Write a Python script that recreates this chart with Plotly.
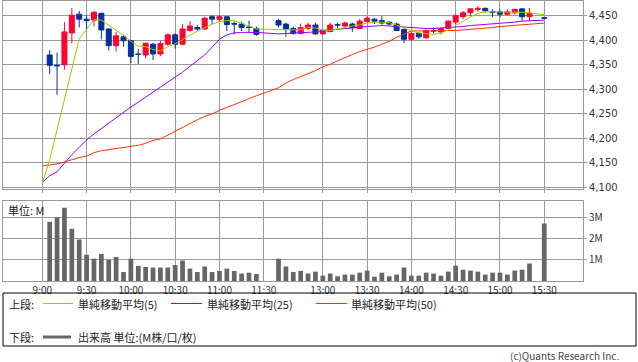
import plotly.graph_objects as go

# ---- data ----
times = ["9:05", "9:10", "9:15", "9:20", "9:25", "9:30", "9:35", "9:40", "9:45", "9:50",
         "9:55", "10:00", "10:05", "10:10", "10:15", "10:20", "10:25", "10:30", "10:35", "10:40",
         "10:45", "10:50", "10:55", "11:00", "11:05", "11:10", "11:15", "11:20", "11:25",
         "12:30", "12:35", "12:40", "12:45", "12:50", "12:55", "13:00", "13:05", "13:10", "13:15",
         "13:20", "13:25", "13:30", "13:35", "13:40", "13:45", "13:50", "13:55", "14:00", "14:05",
         "14:10", "14:15", "14:20", "14:25", "14:30", "14:35", "14:40", "14:45", "14:50", "14:55",
         "15:00", "15:05", "15:10", "15:15", "15:20", "15:30"]

opens = [4370, 4349, 4350, 4415, 4453, 4443, 4441, 4455, 4423, 4389,
         4407, 4399, 4372, 4370, 4392, 4372, 4392, 4411, 4392, 4420,
         4426, 4423, 4448, 4443, 4448, 4434, 4433, 4427, 4424,
         4440, 4433, 4424, 4414, 4424, 4431, 4413, 4418, 4432, 4429,
         4433, 4424, 4438, 4443, 4440, 4437, 4433, 4422, 4402, 4414,
         4405, 4420, 4417, 4424, 4437, 4448, 4456, 4463, 4465, 4458,
         4458, 4453, 4456, 4464, 4448, 4446]
highs = [4380, 4375, 4437, 4466, 4460, 4451, 4460, 4456, 4424, 4417,
         4411, 4401, 4382, 4395, 4395, 4399, 4414, 4414, 4433, 4439,
         4431, 4448, 4451, 4451, 4448, 4438, 4438, 4440, 4428,
         4443, 4436, 4428, 4434, 4436, 4436, 4421, 4436, 4436, 4438,
         4436, 4443, 4449, 4445, 4449, 4438, 4436, 4424, 4416, 4416,
         4421, 4426, 4426, 4441, 4453, 4460, 4464, 4470, 4467, 4463,
         4463, 4463, 4464, 4464, 4466, 4446]
lows = [4331, 4289, 4340, 4394, 4426, 4423, 4428, 4402, 4379, 4377,
        4387, 4354, 4352, 4363, 4360, 4368, 4389, 4383, 4390, 4417,
        4419, 4421, 4432, 4439, 4419, 4412, 4419, 4417, 4409,
        4426, 4407, 4411, 4412, 4421, 4411, 4411, 4416, 4424, 4426,
        4417, 4423, 4436, 4433, 4432, 4430, 4419, 4394, 4399, 4403,
        4403, 4414, 4412, 4423, 4433, 4443, 4449, 4458, 4457, 4447,
        4447, 4451, 4453, 4439, 4439, 4445]
closes = [4349, 4348, 4417, 4451, 4443, 4440, 4457, 4421, 4389, 4409,
          4399, 4367, 4371, 4394, 4372, 4393, 4411, 4392, 4423, 4429,
          4423, 4445, 4443, 4448, 4432, 4433, 4426, 4426, 4412,
          4431, 4423, 4414, 4426, 4431, 4413, 4420, 4431, 4431, 4435,
          4426, 4439, 4445, 4439, 4435, 4433, 4420, 4402, 4414, 4407,
          4420, 4419, 4424, 4439, 4450, 4456, 4464, 4465, 4460, 4457,
          4453, 4458, 4463, 4448, 4455, 4445]
volumes = [2.78, 2.99, 3.44, 2.45, 1.95, 1.23, 1.05, 1.27, 0.99, 1.13,
           0.42, 1.05, 0.71, 0.66, 0.63, 0.63, 0.63, 0.75, 0.96, 0.58,
           0.42, 0.68, 0.42, 0.47, 0.58, 0.47, 0.35, 0.39, 0.33,
           1.05, 0.68, 0.42, 0.47, 0.35, 0.44, 0.25, 0.35, 0.22, 0.30,
           0.30, 0.39, 0.49, 0.20, 0.39, 0.22, 0.30, 0.63, 0.25, 0.25,
           0.39, 0.35, 0.25, 0.44, 0.72, 0.53, 0.49, 0.44, 0.30, 0.39,
           0.39, 0.30, 0.49, 0.53, 0.82, 2.70]

ma_times = ["9:00"] + times
ma5 = [4108, 4157, 4218, 4278, 4342, 4403, 4422, 4442, 4441, 4431, 4421,
       4410, 4398, 4388, 4387, 4381, 4379, 4387, 4393, 4401, 4411,
       4418, 4426, 4433, 4438, 4440, 4440, 4435, 4429, 4423,
       4422, 4421, 4421, 4422, 4426, 4425, 4421, 4420, 4423, 4427,
       4429, 4431, 4435, 4437, 4437, 4436, 4431, 4425, 4419, 4415,
       4413, 4412, 4415, 4421, 4430, 4439, 4447, 4455, 4458, 4458,
       4458, 4458, 4458, 4457, 4456, 4452]
ma25 = [4110, 4124, 4132, 4150, 4167, 4182, 4197, 4209, 4220, 4231, 4243,
        4254, 4264, 4274, 4284, 4295, 4305, 4315, 4325, 4335, 4347,
        4359, 4370, 4386, 4402, 4411, 4415, 4416, 4416, 4416,
        4413, 4414, 4415, 4416, 4416, 4417, 4420, 4421, 4422, 4424,
        4425, 4427, 4428, 4430, 4430, 4429, 4428, 4426, 4426, 4424,
        4424, 4424, 4425, 4425, 4427, 4428, 4430, 4431, 4433, 4434,
        4435, 4436, 4437, 4439, 4440, 4441]
ma50 = [4144, 4146, 4148, 4152, 4157, 4161, 4164, 4171, 4175, 4177, 4179,
        4181, 4183, 4186, 4190, 4196, 4199, 4207, 4214, 4222, 4230,
        4238, 4245, 4250, 4257, 4263, 4268, 4275, 4281, 4287,
        4303, 4313, 4320, 4326, 4332, 4338, 4346, 4351, 4358, 4365,
        4371, 4377, 4381, 4386, 4392, 4398, 4406, 4412, 4419, 4419,
        4419, 4419, 4419, 4419, 4420, 4421, 4422, 4423, 4424, 4426,
        4428, 4429, 4430, 4431, 4432, 4435]

tick_labels = ["9:00", "9:30", "10:00", "10:30", "11:00", "11:30",
               "13:00", "13:30", "14:00", "14:30", "15:00", "15:30"]
price_ticks = [4100, 4150, 4200, 4250, 4300, 4350, 4400, 4450]
volume_ticks = [1, 2, 3]
ma_names = ["単純移動平均(5)", "単純移動平均(25)", "単純移動平均(50)"]


def slot(t):
    h, m = map(int, t.split(":"))
    mins = h * 60 + m - 540
    if mins >= 210:  # afternoon session: lunch break compressed
        mins -= 50
    return mins / 5.0


xs = [slot(t) for t in times]
mxs = [slot(t) for t in ma_times]

RED = "#ff0033"
BLUE = "#003399"
C5, C25, C50 = "#99cc00", "#9900ff", "#ff3300"
GRID = "#999999"

fig = go.Figure()
fig.add_trace(go.Candlestick(
    x=xs, open=opens, high=highs, low=lows, close=closes,
    increasing=dict(line=dict(color=RED, width=1), fillcolor=RED),
    decreasing=dict(line=dict(color=BLUE, width=1), fillcolor=BLUE),
    whiskerwidth=0, hoverinfo="skip", showlegend=False, xaxis="x", yaxis="y"))
for vals, col in [(ma50, C50), (ma25, C25), (ma5, C5)]:
    fig.add_trace(go.Scatter(x=mxs, y=vals, mode="lines", line=dict(color=col, width=1),
                             hoverinfo="skip", showlegend=False, xaxis="x", yaxis="y"))
fig.add_trace(go.Bar(x=xs, y=volumes, width=0.64, marker=dict(color="#666666", line=dict(width=0)),
                     hoverinfo="skip", showlegend=False, xaxis="x2", yaxis="y2"))

# pixel helpers (plot area: x 3..583, y 1..281)
L, R, T, B = 3, 583, 1, 281
W, H = 638, 362


def px(x):
    return (x - L) / (R - L)


def py(y):
    return (B - y) / (B - T)


xrange_ = [(L - 42.3) / 7.382, (R - 42.3) / 7.382]
tickvals = [slot(t) for t in tick_labels]
tickfont = dict(family="Noto Sans CJK JP", size=10, color="#333333")
common_x = dict(range=xrange_, tickvals=tickvals, showgrid=True, gridcolor=GRID, gridwidth=1,
                tickcolor=GRID, showline=True, mirror=True,
                linecolor=GRID, linewidth=1, zeroline=False, fixedrange=True)
common_y = dict(side="right", showgrid=True, gridcolor=GRID, gridwidth=1, ticks="outside",
                ticklen=3, tickcolor=GRID, showline=True, mirror=True, linecolor=GRID,
                linewidth=1, zeroline=False, fixedrange=True)

fig.update_layout(
    width=W, height=H, autosize=False,
    margin=dict(l=L, r=W - R, t=T, b=H - B, pad=0),
    paper_bgcolor="white", plot_bgcolor="white",
    boxgap=0.03, boxgroupgap=0.3,
    xaxis=dict(domain=[0, 1], anchor="y", showticklabels=False, ticks="outside", ticklen=3,
               rangeslider=dict(visible=False), **common_x),
    xaxis2=dict(domain=[0, 1], anchor="y2", matches="x", ticktext=tick_labels, ticks="",
                tickfont=tickfont, **common_x),
    yaxis=dict(domain=[py(189), 1], anchor="x", range=[4097, 4480], tickvals=price_ticks,
               ticktext=[f"{v:,}" for v in price_ticks],
               tickfont=dict(family="DejaVu Sans", size=10, color="#333333"), **common_y),
    yaxis2=dict(domain=[0, py(201)], anchor="x2", range=[0, 3.756], tickvals=volume_ticks,
                ticktext=[f"{v}M" for v in volume_ticks], tickfont=tickfont, **common_y),
)

shapes = []
annotations = []
# unit label on volume pane
annotations.append(dict(x=px(7), y=py(210), xref="paper", yref="paper", text="単位: M",
                        showarrow=False, xanchor="left", yanchor="middle", borderpad=0,
                        font=dict(family="Noto Sans CJK JP", size=11, color="#222222")))
# legend box
shapes.append(dict(type="rect", xref="paper", yref="paper", x0=px(3), x1=px(636),
                   y0=py(293), y1=py(346), line=dict(color="black", width=1)))
lfont = dict(family="Noto Sans CJK JP", size=11, color="#222222")
row1, row2 = 303.5, 337
annotations.append(dict(x=px(8), y=py(row1), xref="paper", yref="paper", text="上段:",
                        showarrow=False, xanchor="left", yanchor="middle", font=lfont,
                        borderpad=0))
for (x0, x1, tx), col, name in zip([(43, 73, 77), (171, 202, 206), (316, 347, 350)],
                                   [C5, C25, C50], ma_names):
    shapes.append(dict(type="line", xref="paper", yref="paper", x0=px(x0), x1=px(x1),
                       y0=py(row1), y1=py(row1), line=dict(color=col, width=1)))
    annotations.append(dict(x=px(tx), y=py(row1), xref="paper", yref="paper", text=name,
                            showarrow=False, xanchor="left", yanchor="middle", font=lfont,
                            borderpad=0))
annotations.append(dict(x=px(8), y=py(row2), xref="paper", yref="paper", text="下段:",
                        showarrow=False, xanchor="left", yanchor="middle", font=lfont,
                        borderpad=0))
shapes.append(dict(type="line", xref="paper", yref="paper", x0=px(43), x1=px(71),
                   y0=py(row2), y1=py(row2), line=dict(color="#666666", width=3)))
annotations.append(dict(x=px(77), y=py(row2), xref="paper", yref="paper",
                        text="出来高 単位:(M株/口/枚)", showarrow=False, xanchor="left",
                        yanchor="middle", font=lfont, borderpad=0))
annotations.append(dict(x=px(620), y=py(355.5), xref="paper", yref="paper",
                        text="(c)Quants Research Inc.", showarrow=False, xanchor="right",
                        yanchor="middle", borderpad=0,
                        font=dict(family="Noto Sans CJK JP", size=10, color="#444444")))
fig.update_layout(shapes=shapes, annotations=annotations)

fig.write_html("out.html", config={"displayModeBar": False},
               post_script="document.body.style.margin='0px';")
